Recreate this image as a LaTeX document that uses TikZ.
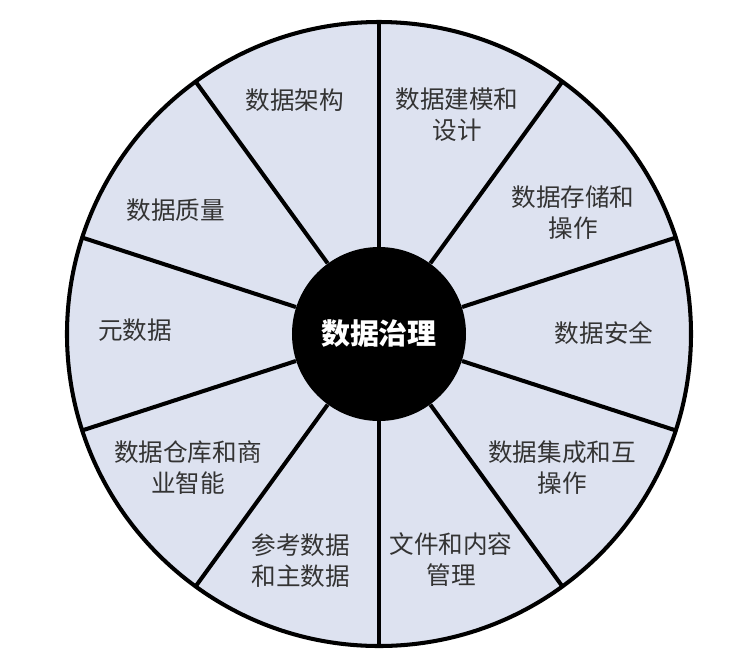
\documentclass[tikz,border=0pt]{standalone}
\usepackage{fontspec}
\usepackage{xcolor}
\usepackage{tikz}
\newfontfamily\cjk{Noto Sans CJK SC}
\definecolor{sectorfill}{HTML}{DDE2F0}
\definecolor{labelgray}{HTML}{333333}

\begin{document}
\begin{tikzpicture}[
    rim/.style={draw=black, line width=2.3pt, fill=sectorfill},
    spoke/.style={draw=black, line width=2.3pt},
    hubnode/.style={circle, fill=black, minimum size=3.48cm, inner sep=0pt,
                    text=white, font=\cjk\fontsize{16.5}{20}\selectfont\bfseries},
    area/.style={align=center, text=labelgray, font=\cjk\fontsize{14}{17.6}\selectfont}
]
\useasboundingbox (-7.58,-6.44) rectangle (7.40,6.68);

\draw[rim] (0,0) circle (6.24);
\node[hubnode] (hub) at (0,0) {数据治理};
\foreach \a in {90,54,18,-18,-54,-90,-126,-162,162,126}
    \draw[spoke] (hub.\a) -- (\a:6.24);

\node[area] (arch)  at (-1.68, 4.68) {数据架构};
\node[area] (model) at (1.56, 4.38)  {数据建模和\\设计};
\node[area] (store) at (3.88, 2.42)  {数据存储和\\操作};
\node[area] (sec)   at (4.50, 0.02)  {数据安全};
\node[area] (integ) at (3.66, -2.67) {数据集成和互\\操作};
\node[area] (doc)   at (1.44, -4.52) {文件和内容\\管理};
\node[area] (ref)   at (-1.56, -4.54) {参考数据\\和主数据};
\node[area] (dwbi)  at (-3.82, -2.67) {数据仓库和商\\业智能};
\node[area] (meta)  at (-4.88, 0.08) {元数据};
\node[area] (qual)  at (-4.06, 2.48) {数据质量};
\end{tikzpicture}
\end{document}
